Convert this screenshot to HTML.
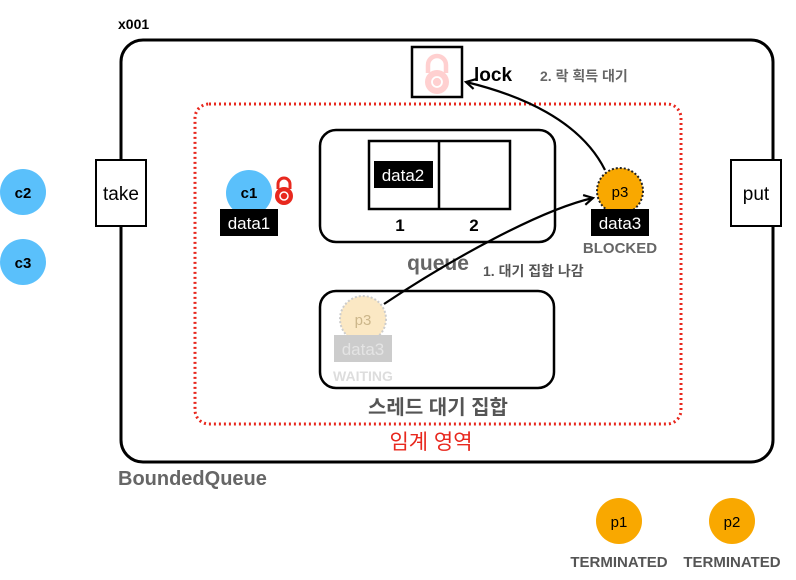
<!DOCTYPE html>
<html><head><meta charset="utf-8"><style>
html,body{margin:0;padding:0;background:#fff;}
svg text{font-family:"Liberation Sans","Noto Sans CJK KR",sans-serif;}
</style></head><body>
<svg width="796" height="575" viewBox="0 0 796 575" xmlns="http://www.w3.org/2000/svg">
<defs><marker id="ah" markerWidth="12" markerHeight="12" refX="10" refY="6" orient="auto" markerUnits="userSpaceOnUse"><path d="M1,1 L10,6 L1,11" fill="none" stroke="#000" stroke-width="2.2"/></marker></defs>
<text x="118" y="29" font-size="14" font-weight="bold">x001</text>
<rect x="121" y="40" width="652" height="422" rx="22" fill="none" stroke="#000" stroke-width="3"/>
<text x="118" y="485" font-size="20" font-weight="bold" fill="#666">BoundedQueue</text>
<rect x="195" y="104" width="486" height="320" rx="14" fill="none" stroke="#e8281e" stroke-width="3" stroke-dasharray="2,3"/>
<text x="431" y="449" font-size="21" fill="#e8281e" text-anchor="middle">임계 영역</text>
<rect x="412" y="47" width="50" height="50" fill="#fff" stroke="#000" stroke-width="2.5"/>
<path d="M428,73 v-8 a9,9 0 0 1 18,0 v8" fill="none" stroke="#ffd0d0" stroke-width="4.5"/>
<circle cx="437" cy="82" r="12" fill="#ffd0d0"/><circle cx="437" cy="82" r="5" fill="none" stroke="#fff" stroke-width="1.8"/>
<text x="474" y="81" font-size="19" font-weight="bold">lock</text>
<text x="540" y="81" font-size="14" font-weight="bold" fill="#666">2. 락 획득 대기</text>
<rect x="96" y="160" width="50" height="66" fill="#fff" stroke="#000" stroke-width="2"/>
<text x="121" y="200" font-size="19" text-anchor="middle">take</text>
<rect x="731" y="160" width="50" height="66" fill="#fff" stroke="#000" stroke-width="2"/>
<text x="756" y="200" font-size="19" text-anchor="middle">put</text>
<circle cx="23" cy="192" r="23" fill="#5ac0fb"/><text x="23" y="198" font-size="15" font-weight="bold" text-anchor="middle">c2</text>
<circle cx="23" cy="262" r="23" fill="#5ac0fb"/><text x="23" y="268" font-size="15" font-weight="bold" text-anchor="middle">c3</text>
<circle cx="249" cy="193" r="23" fill="#5ac0fb"/><text x="249" y="198" font-size="15" font-weight="bold" text-anchor="middle">c1</text>
<path d="M278,189 v-5 a6,6 0 0 1 12,0 v5" fill="none" stroke="#e8281e" stroke-width="3"/>
<circle cx="284" cy="196" r="9" fill="#e8281e"/><circle cx="284" cy="196" r="4" fill="none" stroke="#fff" stroke-width="1.5"/>
<rect x="220" y="209" width="58" height="27" fill="#000"/><text x="249" y="229" font-size="17" fill="#fff" text-anchor="middle">data1</text>
<rect x="320" y="130" width="235" height="112" rx="16" fill="none" stroke="#000" stroke-width="2.5"/>
<rect x="369" y="141" width="141" height="68" fill="none" stroke="#000" stroke-width="2.5"/>
<line x1="439" y1="141" x2="439" y2="209" stroke="#000" stroke-width="2.5"/>
<rect x="374" y="161" width="59" height="27" fill="#000"/><text x="403" y="181" font-size="17" fill="#fff" text-anchor="middle">data2</text>
<text x="400" y="231" font-size="17" font-weight="bold" text-anchor="middle">1</text>
<text x="474" y="231" font-size="17" font-weight="bold" text-anchor="middle">2</text>
<text x="438" y="270" font-size="21" font-weight="bold" fill="#666" text-anchor="middle">queue</text>
<text x="483" y="276" font-size="14" font-weight="bold" fill="#555">1.  대기 집합 나감</text>
<rect x="320" y="291" width="234" height="97" rx="16" fill="none" stroke="#000" stroke-width="2.5"/>
<text x="438" y="414" font-size="20" font-weight="bold" fill="#555" text-anchor="middle">스레드 대기 집합</text>
<circle cx="363" cy="319" r="23" fill="#fbe8c4" stroke="#ccc" stroke-width="2" stroke-dasharray="2,2"/>
<text x="363" y="325" font-size="15" fill="#ccb68a" text-anchor="middle">p3</text>
<rect x="334" y="335" width="58" height="27" fill="#ccc"/><text x="363" y="355" font-size="17" fill="#e4e4e4" text-anchor="middle">data3</text>
<text x="363" y="381" font-size="14" font-weight="bold" fill="#ddd" text-anchor="middle">WAITING</text>
<circle cx="620" cy="191" r="23" fill="#f9a800" stroke="#222" stroke-width="2" stroke-dasharray="2,2"/>
<text x="620" y="197" font-size="15" text-anchor="middle">p3</text>
<rect x="591" y="209" width="58" height="27" fill="#000"/><text x="620" y="229" font-size="17" fill="#fff" text-anchor="middle">data3</text>
<text x="620" y="253" font-size="15" font-weight="bold" fill="#666" text-anchor="middle">BLOCKED</text>
<path d="M384,304 C450,260 540,210 593,198" fill="none" stroke="#000" stroke-width="2.2" marker-end="url(#ah)"/>
<path d="M605,170 C580,120 520,95 466,82" fill="none" stroke="#000" stroke-width="2.2" marker-end="url(#ah)"/>
<circle cx="619" cy="521" r="23" fill="#f9a800"/><text x="619" y="527" font-size="15" text-anchor="middle">p1</text>
<text x="619" y="567" font-size="15" font-weight="bold" fill="#555" text-anchor="middle">TERMINATED</text>
<circle cx="732" cy="521" r="23" fill="#f9a800"/><text x="732" y="527" font-size="15" text-anchor="middle">p2</text>
<text x="732" y="567" font-size="15" font-weight="bold" fill="#555" text-anchor="middle">TERMINATED</text>
</svg>
</body></html>
